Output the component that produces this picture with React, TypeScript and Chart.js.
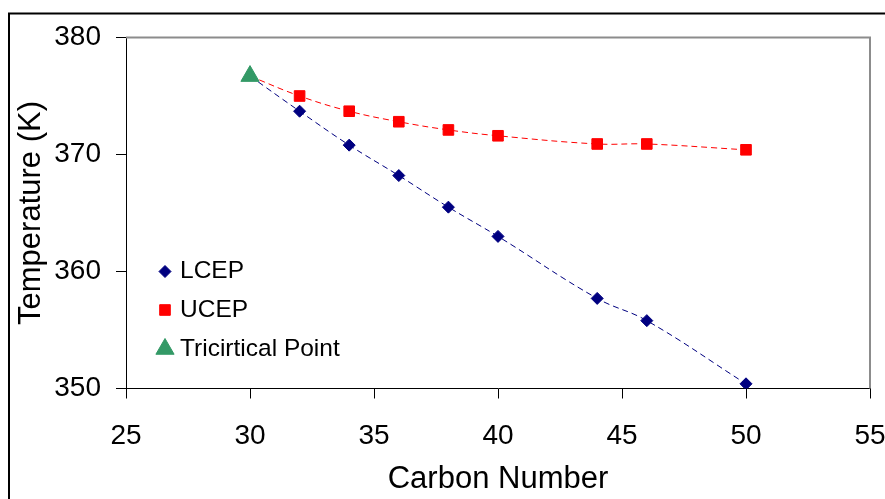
import React, { useEffect, useRef } from 'react';
import { Chart, registerables } from 'chart.js';
import { drawPoint } from 'chart.js/helpers';

Chart.register(...registerables);

// Critical end point temperatures against carbon number
const carbonNumbers = [32, 34, 36, 38, 40, 44, 46, 50];
const lcepTemps = [373.7, 370.8, 368.2, 365.5, 363.0, 357.7, 355.8, 350.4];
const ucepTemps = [375.0, 373.7, 372.8, 372.1, 371.6, 370.9, 370.9, 370.4];
const tricriticalCarbon = [30];
const tricriticalTemp = [376.7];

const seriesLabels = ['LCEP', 'UCEP', 'Tricirtical Point'];
const xTitle = 'Carbon Number';
const yTitle = 'Temperature (K)';
const xMin = 25;
const xMax = 55;
const xStep = 5;
const yMin = 350;
const yMax = 380;
const yStep = 10;

const FONT = "'Liberation Sans', Arial, Helvetica, sans-serif";
const NAVY = '#000080';
const RED = '#FF0000';
const GREEN = '#339966';

// Both curves start at the tricritical point
const withTricritical = (temps: number[]) => [
  { x: tricriticalCarbon[0], y: tricriticalTemp[0] },
  ...carbonNumbers.map((c, i) => ({ x: c, y: temps[i] })),
];

const frameAndBorder = {
  id: 'frameAndBorder',
  beforeDraw(chart: any) {
    const { ctx, width, height } = chart;
    ctx.save();
    ctx.fillStyle = '#ffffff';
    ctx.fillRect(0, 0, width, height);
    ctx.strokeStyle = '#000000';
    ctx.lineWidth = 2;
    ctx.beginPath();
    ctx.moveTo(9, height + 5);
    ctx.lineTo(9, 13.5);
    ctx.lineTo(width + 5, 13.5);
    ctx.stroke();
    ctx.restore();
  },
  beforeDatasetsDraw(chart: any) {
    const { ctx, chartArea } = chart;
    ctx.save();
    ctx.strokeStyle = '#8c8c8c';
    ctx.lineWidth = 2;
    ctx.beginPath();
    ctx.moveTo(chartArea.left, chartArea.top);
    ctx.lineTo(chartArea.right, chartArea.top);
    ctx.lineTo(chartArea.right, chartArea.bottom);
    ctx.stroke();
    ctx.restore();
  },
};

const insideLegend = {
  id: 'insideLegend',
  afterDatasetsDraw(chart: any) {
    const { ctx, chartArea } = chart;
    const markerX = chartArea.left + 39;
    const rowOffsets = [234, 272.5, 311.5];
    const radii = [6, 7.5, 10.5];
    chart.data.datasets.forEach((ds: any, i: number) => {
      const y = chartArea.top + rowOffsets[i];
      ctx.save();
      ctx.fillStyle = ds.pointBackgroundColor;
      ctx.strokeStyle = ds.pointBorderColor;
      ctx.lineWidth = 1;
      drawPoint(ctx, { pointStyle: ds.pointStyle, radius: radii[i], borderWidth: 1, rotation: 0 } as any, markerX, y);
      ctx.fillStyle = '#000000';
      ctx.font = `24.5px ${FONT}`;
      ctx.textAlign = 'left';
      ctx.textBaseline = 'middle';
      ctx.fillText(ds.label, markerX + 15, y);
      ctx.restore();
    });
  },
};

export default function App() {
  const canvasRef = useRef<HTMLCanvasElement>(null);

  useEffect(() => {
    if (!canvasRef.current) return;
    const chart = new Chart(canvasRef.current, {
      type: 'scatter',
      data: {
        datasets: [
          {
            label: seriesLabels[0],
            data: withTricritical(lcepTemps),
            showLine: true,
            borderColor: NAVY,
            borderWidth: 1,
            borderDash: [6, 4],
            tension: 0.4,
            pointStyle: 'rectRot',
            pointRadius: [0, ...carbonNumbers.map(() => 6)],
            pointBackgroundColor: NAVY,
            pointBorderColor: NAVY,
            pointBorderWidth: 1,
            order: 2,
          },
          {
            label: seriesLabels[1],
            data: withTricritical(ucepTemps),
            showLine: true,
            borderColor: RED,
            borderWidth: 1,
            borderDash: [6, 4],
            tension: 0.4,
            pointStyle: 'rect',
            pointRadius: [0, ...carbonNumbers.map(() => 7.5)],
            pointBackgroundColor: RED,
            pointBorderColor: RED,
            pointBorderWidth: 1,
            order: 1,
          },
          {
            label: seriesLabels[2],
            data: tricriticalCarbon.map((c, i) => ({ x: c, y: tricriticalTemp[i] })),
            showLine: false,
            pointStyle: 'triangle',
            pointRadius: 10.5,
            pointBackgroundColor: GREEN,
            pointBorderColor: GREEN,
            pointBorderWidth: 1,
            order: 0,
          },
        ],
      },
      options: {
        responsive: false,
        animation: false,
        layout: { padding: { left: 0, top: 37.5, right: 15, bottom: 0 } },
        plugins: {
          legend: { display: false },
          tooltip: { enabled: false },
          title: { display: false },
        },
        scales: {
          x: {
            type: 'linear',
            min: xMin,
            max: xMax,
            afterFit: (scale: any) => {
              scale.height = 110.5;
              scale.paddingLeft = 0;
              scale.paddingRight = 0;
            },
            ticks: {
              stepSize: xStep,
              color: '#000000',
              font: { family: FONT, size: 28 },
              padding: 21,
              maxRotation: 0,
            },
            grid: {
              drawOnChartArea: false,
              drawTicks: true,
              tickLength: 10,
              tickColor: '#000000',
            },
            border: { color: '#000000', width: 1 },
            title: {
              display: true,
              text: xTitle,
              color: '#000000',
              font: { family: FONT, size: 31 },
              padding: { top: 0, bottom: 1 },
            },
          },
          y: {
            type: 'linear',
            min: yMin,
            max: yMax,
            afterFit: (scale: any) => {
              scale.width = 126;
              scale.paddingTop = 0;
              scale.paddingBottom = 0;
            },
            ticks: {
              stepSize: yStep,
              color: '#000000',
              font: { family: FONT, size: 28 },
              padding: 15,
            },
            grid: {
              drawOnChartArea: false,
              drawTicks: true,
              tickLength: 10,
              tickColor: '#000000',
            },
            border: { color: '#000000', width: 1 },
            title: {
              display: true,
              text: yTitle,
              color: '#000000',
              font: { family: FONT, size: 31 },
              padding: { top: 13, bottom: 0 },
            },
          },
        },
      },
      plugins: [frameAndBorder, insideLegend],
    });
    return () => chart.destroy();
  }, []);

  return (
    <div style={{ position: 'absolute', left: 0, top: 0, width: 885, height: 499 }}>
      <canvas ref={canvasRef} width={885} height={499} style={{ display: 'block' }} />
    </div>
  );
}
